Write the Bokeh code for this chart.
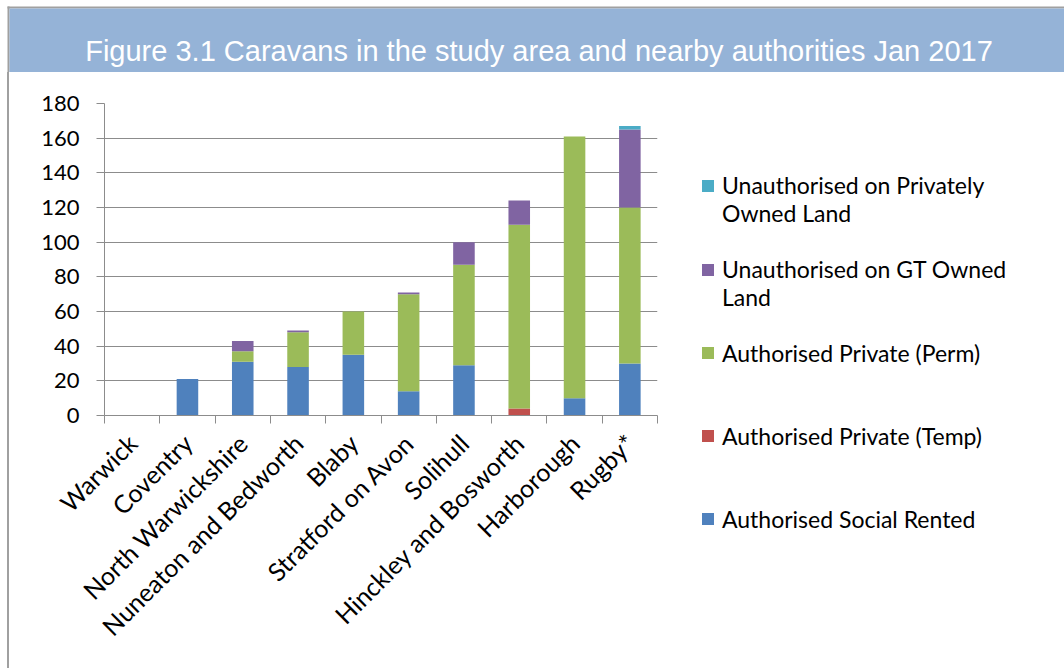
import math
from bokeh.plotting import figure
from bokeh.models import (ColumnDataSource, Range1d, FixedTicker, Legend, LegendItem,
                          Label, BoxAnnotation, Spacer)
from bokeh.layouts import column, row
from bokeh.embed import file_html
from bokeh.resources import INLINE

# ---------------- data ----------------
chart_title = "Figure 3.1 Caravans in the study area and nearby authorities Jan 2017"
authorities = ["Warwick", "Coventry", "North Warwickshire", "Nuneaton and Bedworth",
               "Blaby", "Stratford on Avon", "Solihull", "Hinckley and Bosworth",
               "Harborough", "Rugby*"]
social_rented = [0, 21, 31, 28, 35, 14, 29, 0, 10, 30]
private_temp = [0, 0, 0, 0, 0, 0, 0, 4, 0, 0]
private_perm = [0, 0, 6, 20, 25, 56, 58, 106, 151, 90]
unauth_gt = [0, 0, 6, 1, 0, 1, 13, 14, 0, 45]
unauth_private = [0, 0, 0, 0, 0, 0, 0, 0, 0, 2]
series_names = ["Authorised Social Rented", "Authorised Private (Temp)",
                "Authorised Private (Perm)", "Unauthorised on GT Owned\nLand",
                "Unauthorised on Privately\nOwned Land"]
series_colors = ["#4F81BD", "#C0504D", "#9BBB59", "#8064A2", "#4BACC6"]
y_ticks = [0, 20, 40, 60, 80, 100, 120, 140, 160, 180]

FONT = "Lato"
GRID = "#8C8C8C"
FRAME = "#A0A0A0"

# ---------------- header band ----------------
hdr = figure(width=1064, height=72, x_range=Range1d(0, 1064), y_range=Range1d(0, 72),
             x_axis_location=None, y_axis_location=None, toolbar_location=None,
             min_border=0, output_backend="svg", outline_line_color=None,
             background_fill_color="white", border_fill_color="white")
hdr.xgrid.visible = False
hdr.ygrid.visible = False
hdr.add_layout(BoxAnnotation(left=7, right=1064, bottom=64, top=66, fill_color=FRAME,
                             fill_alpha=1, line_color=None))
hdr.add_layout(BoxAnnotation(left=7, right=9, bottom=0, top=66, fill_color=FRAME,
                             fill_alpha=1, line_color=None))
hdr.add_layout(BoxAnnotation(left=9, right=1064, bottom=0, top=64, fill_color="#95B3D7",
                             fill_alpha=1, line_color=None))
hdr.add_layout(Label(x=538.5, y=21.3, text=chart_title, text_align="center",
                     text_baseline="alphabetic", text_color="white",
                     text_font="Liberation Sans", text_font_size="29px"))

# ---------------- left frame line ----------------
gap = Spacer(width=7, height=596, styles={"background-color": "white"})
line = Spacer(width=2, height=596, styles={"background-color": FRAME})

# ---------------- chart ----------------
xs = list(range(1, len(authorities) + 1))
keys = ["social_rented", "private_temp", "private_perm", "unauth_gt", "unauth_private"]
src = ColumnDataSource(dict(x=xs, social_rented=social_rented, private_temp=private_temp,
                            private_perm=private_perm, unauth_gt=unauth_gt,
                            unauth_private=unauth_private))

p = figure(frame_width=553, frame_height=312, x_range=Range1d(0.5, len(authorities) + 0.5),
           y_range=Range1d(0, 180), toolbar_location=None, output_backend="svg",
           min_border_left=95, min_border_right=407, min_border_top=31, min_border_bottom=253,
           background_fill_color="white", border_fill_color="white", outline_line_color=None)

renderers = p.vbar_stack(keys, x="x", width=0.39, source=src, color=series_colors,
                         line_color=None)

# axes
xa = p.xaxis[0]
xa.ticker = FixedTicker(ticks=xs, minor_ticks=[i + 0.5 for i in range(0, len(authorities) + 1)])
xa.major_label_overrides = {i: name for i, name in zip(xs, authorities)}
xa.major_label_orientation = math.pi / 4
xa.major_tick_out = 0
xa.major_tick_in = 0
xa.minor_tick_out = 8
xa.minor_tick_in = 0
xa.minor_tick_line_color = GRID
xa.axis_line_color = GRID
xa.major_label_text_font = FONT
xa.major_label_text_font_size = "25px"
xa.major_label_text_color = "black"
xa.major_label_standoff = 15

ya = p.yaxis[0]
ya.ticker = FixedTicker(ticks=y_ticks)
ya.major_tick_out = 8
ya.major_tick_in = 0
ya.minor_tick_out = 0
ya.minor_tick_in = 0
ya.major_tick_line_color = GRID
ya.axis_line_color = GRID
ya.major_label_text_font = FONT
ya.major_label_text_font_size = "22px"
ya.major_label_text_color = "black"
ya.major_label_standoff = 17

p.xgrid.visible = False
p.ygrid.grid_line_color = GRID
p.ygrid.ticker = FixedTicker(ticks=y_ticks)

# legend (top entry = last stacked series); a blank first line keeps the
# swatch level with the first line of each two-line label
items = [LegendItem(label=(" \n" + series_names[i]) if "\n" in series_names[i] else series_names[i],
                    renderers=[renderers[i]])
         for i in reversed(range(len(keys)))]
legend = Legend(items=items, location=(43, -145), orientation="vertical", ncols=1,
                glyph_width=15, glyph_height=15, label_standoff=7, padding=0, margin=0,
                spacing=0, label_height=83, border_line_color=None,
                background_fill_alpha=0, label_text_font=FONT,
                label_text_font_size="23px", label_text_color="black")
p.add_layout(legend, "right")

layout = column(hdr, row(gap, line, p))

open("out.html", "w").write(file_html(layout, INLINE, title="Figure 3.1"))
